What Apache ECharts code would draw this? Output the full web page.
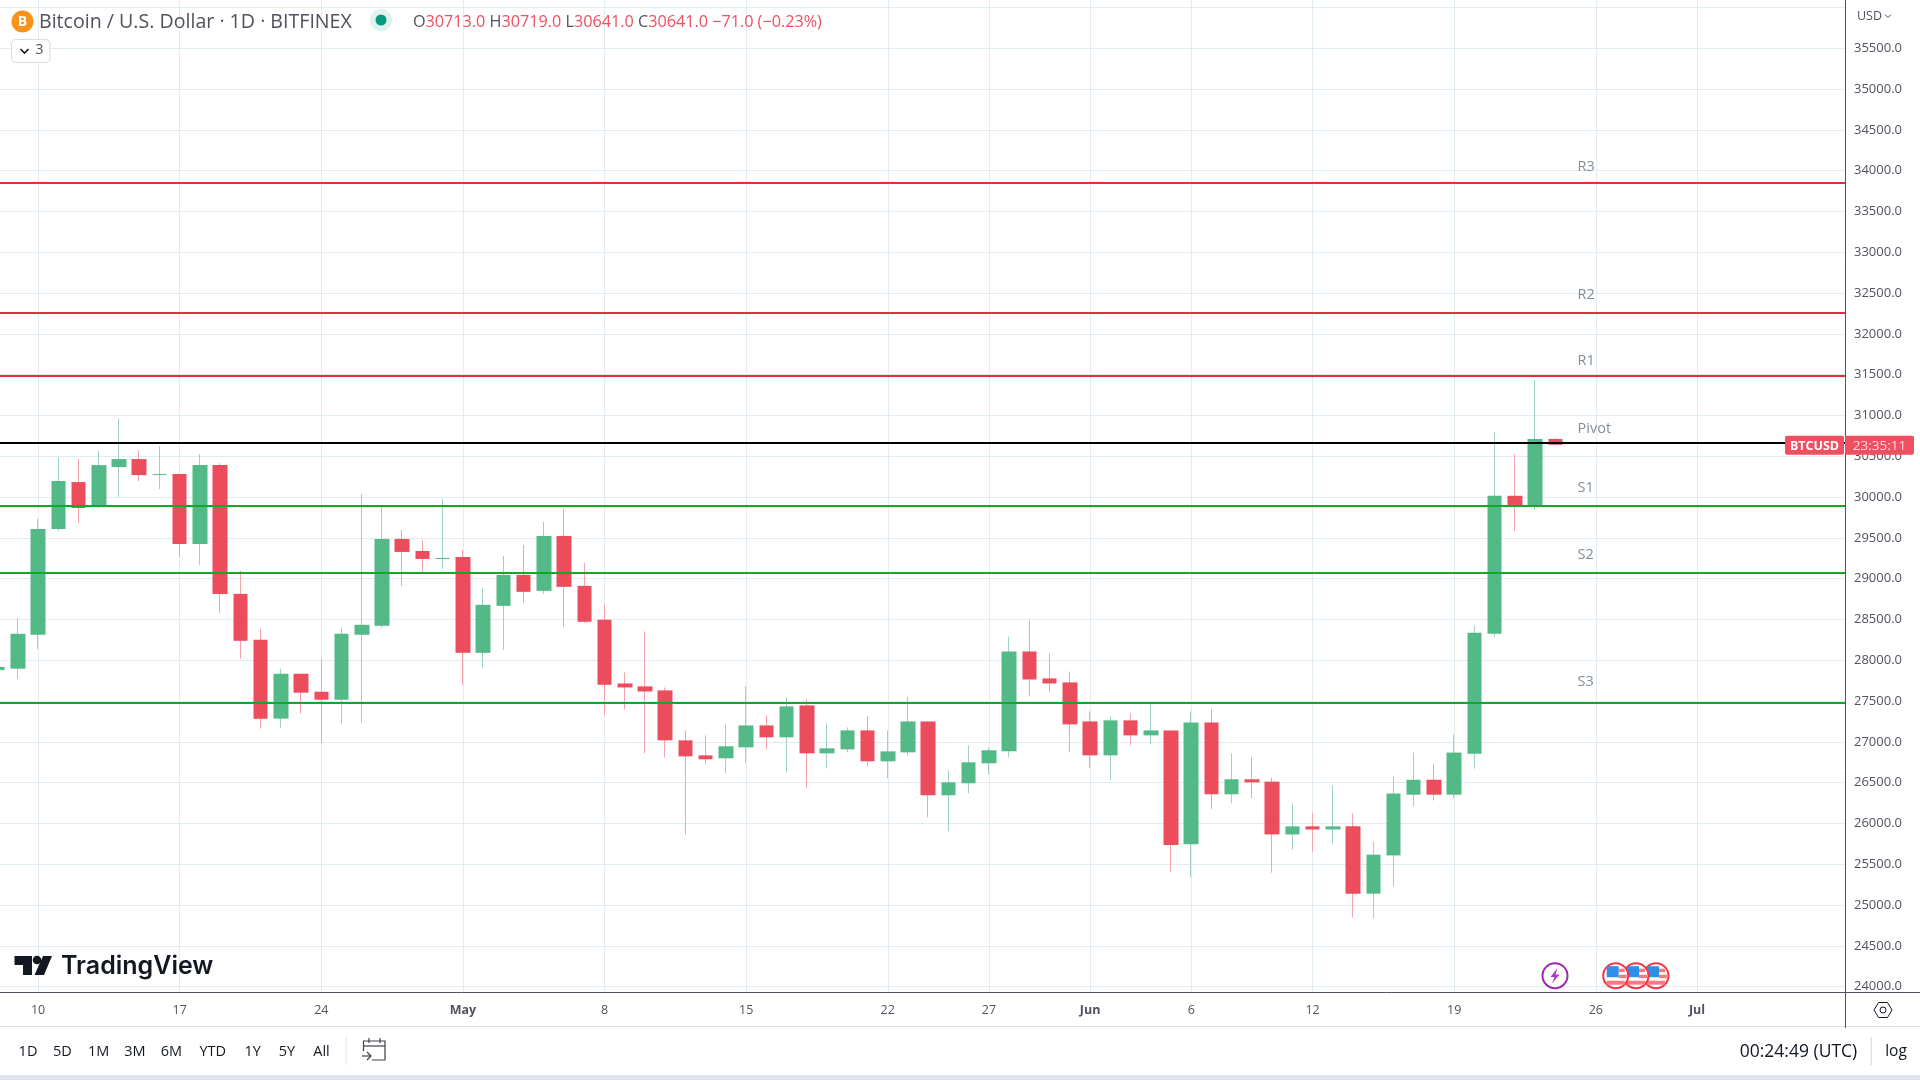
<!DOCTYPE html>
<html><head><meta charset="utf-8">
<style>html,body{margin:0;padding:0;background:#fff;overflow:hidden}#c{width:1920px;height:1080px}</style>
<script src="https://cdn.jsdelivr.net/npm/echarts@6/dist/echarts.min.js"></script>
</head><body><div id="c"></div>
<script>
const categories = [
'Apr 8','Apr 9','Apr 10','Apr 11','Apr 12','Apr 13','Apr 14','Apr 15','Apr 16','Apr 17','Apr 18','Apr 19','Apr 20','Apr 21','Apr 22','Apr 23','Apr 24','Apr 25','Apr 26','Apr 27','Apr 28','Apr 29','Apr 30',
'May 1','May 2','May 3','May 4','May 5','May 6','May 7','May 8','May 9','May 10','May 11','May 12','May 13','May 14','May 15','May 16','May 17','May 18','May 19','May 20','May 21','May 22','May 23','May 24','May 25','May 26','May 27','May 28','May 29','May 30','May 31',
'Jun 1','Jun 2','Jun 3','Jun 4','Jun 5','Jun 6','Jun 7','Jun 8','Jun 9','Jun 10','Jun 11','Jun 12','Jun 13','Jun 14','Jun 15','Jun 16','Jun 17','Jun 18','Jun 19','Jun 20','Jun 21','Jun 22','Jun 23','Jun 24','Jun 25','Jun 26','Jun 27','Jun 28','Jun 29','Jun 30',
'Jul 1','Jul 2','Jul 3','Jul 4','Jul 5','Jul 6','Jul 7','Jul 8'];
const opens = [27880,27897,28313,29609,30184,29891,30368,30466,30270,30282,29426,30392,28814,28251,27285,27835,27615,27517,28313,28423,29487,29340,29242,
29267,28092,28667,29047,28851,29524,28912,28496,27716,27680,27631,27019,26835,26799,26933,27202,27056,27447,26860,26909,27141,26762,26872,27251,26346,26493,26738,26884,28108,27778,27729,
27251,26835,27264,27080,27141,25747,27239,26358,26542,26513,25866,25965,25927,25965,25140,25609,26353,26536,26353,26855,28325,30016,29899,30713];
const closes = [27920,28325,29609,30197,29866,30392,30466,30270,30282,29426,30392,28814,28239,27285,27835,27603,27517,28325,28435,29487,29328,29242,29255,
28092,28680,29047,28839,29524,28900,28472,27701,27667,27618,27019,26823,26787,26946,27202,27056,27435,26860,26921,27141,26762,26884,27251,26346,26505,26750,26897,28108,27765,27716,27215,
26835,27264,27080,27141,25735,27239,26358,26542,26505,25866,25965,25927,25965,25140,25618,26367,26536,26353,26869,28339,30016,29899,30713,30641];
const lows = [27880,27774,28141,29585,29683,29866,30001,30197,30099,29267,29169,28582,28019,27163,27175,27346,26991,27224,27236,28398,28912,29083,29120,
27701,27909,28129,28704,28814,28410,28459,27322,27398,26860,26811,25869,26725,26615,26750,26909,26627,26432,26676,26872,26701,26554,26835,26077,25906,26371,26603,26811,27557,27606,26872,
26676,26530,26958,26970,25404,25343,26175,26248,26309,25398,25679,25651,25754,24850,24836,25229,26208,26283,26307,26672,28288,29585,29843,30641];
const highs = [27920,28521,29732,30490,30466,30564,30967,30576,30625,30290,30527,30417,29096,28386,27897,27835,28019,28398,30038,29879,29597,29475,29976,
29352,28888,29279,29414,29695,29854,29193,28692,27851,28353,27667,27141,27080,27215,27680,27325,27545,27521,27227,27178,27313,27141,27557,27251,26652,26958,26933,28291,28487,28083,27863,
27374,27313,27349,27480,27141,27374,27398,26860,26811,26564,26246,26133,26466,26124,25777,26574,26869,26733,27089,28424,30799,30527,31436,30719];
const tickLabels = {'Apr 10':'10','Apr 17':'17','Apr 24':'24','May 1':'May','May 8':'8','May 15':'15','May 22':'22','May 27':'27','Jun 1':'Jun','Jun 6':'6','Jun 12':'12','Jun 19':'19','Jun 26':'26','Jul 1':'Jul'};
const levelNames = ['R3','R2','R1','Pivot','S1','S2','S3'];
const levelValues = [33849,32257,31488,30667,29894,29073,27478];
const levelColors = ['#e0303f','#e0303f','#e0303f','#000000','#14a82a','#14a82a','#14a82a'];
const levelLabelValues = [34044,32478,31668,30839,30118,29297,27737];
const levelLabelCategory = 'Jun 25';
const lastPrice = 30641;
const rangeButtons = ['1D','5D','1M','3M','6M','YTD','1Y','5Y','All'];
const rangeX = [28,62.4,98.7,135,171.5,212.8,252.6,287,321.5];

const FONT = '"Open Sans"';
const GREY = '#50535e', UP = '#53b987', DOWN = '#eb4d5c';
const chart = echarts.init(document.getElementById('c'), null, {renderer:'canvas', width:1920, height:1080});

const ohlc = opens.map((o,i)=>[o,closes[i],lows[i],highs[i]]);
const bodies = opens.map((o,i)=>[o,closes[i],Math.min(o,closes[i]),Math.max(o,closes[i])]);
const isTick = (i,v)=>tickLabels[v]!==undefined;

function txt(x,y,text,size,fill,align,weight){
  return {type:'text',z:12,x,y,silent:true,style:{text,fill,align:align||'left',verticalAlign:'middle',font:(weight||'normal')+' '+size+'px '+FONT}};
}
function rect(x,y,w,h,fill,r,stroke){
  return {type:'rect',z:5,silent:true,shape:{x,y,width:w,height:h,r:r||0},style:{fill,stroke:stroke||null,lineWidth:stroke?1:0}};
}
function poly(points,stroke,lw,z){
  return {type:'polyline',z:z||12,silent:true,shape:{points},style:{stroke,fill:null,lineWidth:lw||1}};
}
function flag(cx,cy){
  return {type:'group',x:cx,y:cy,z:11,silent:true,children:[
    {type:'circle',z:11,shape:{cx:0,cy:0,r:12.5},style:{fill:'#fff',stroke:'#f23645',lineWidth:2}},
    {type:'rect',z:11,shape:{x:3,y:-7,width:6,height:3.5},style:{fill:'#f77c80'}},
    {type:'rect',z:11,shape:{x:3,y:-1,width:8,height:3.5},style:{fill:'#f77c80'}},
    {type:'rect',z:11,shape:{x:-9,y:5,width:18,height:4},style:{fill:'#f77c80'}},
    {type:'rect',z:11,shape:{x:-9,y:-9.5,width:12,height:11},style:{fill:'#2f8fe8'}}
  ]};
}

chart.setOption({
  animation:false,
  backgroundColor:'#ffffff',
  grid:{left:-12.5,top:-33.3,width:1861.2,height:1060.8,containLabel:false,outerBoundsMode:'none'},
  xAxis:[
    {type:'category',data:categories,boundaryGap:true,z:0,axisLine:{show:false},axisTick:{show:false},axisLabel:{show:false},
     splitLine:{show:true,alignWithLabel:true,interval:isTick,lineStyle:{color:'#e1ebf2',width:1}}},
    {type:'category',data:categories,boundaryGap:true,z:10,offset:-35.2,position:'bottom',
     axisLine:{show:true,lineStyle:{color:GREY,width:1}},axisTick:{show:false},splitLine:{show:false},
     axisLabel:{show:true,interval:isTick,margin:12,color:GREY,fontFamily:FONT,fontSize:12.5,
       formatter:v=>{const t=tickLabels[v];return /[A-Za-z]/.test(t)?'{m|'+t+'}':t;},
       rich:{m:{fontWeight:'bold',color:GREY,fontFamily:FONT,fontSize:12.5}}}}
  ],
  yAxis:[
    {type:'value',min:23500,max:36500,interval:500,position:'left',z:0,axisLine:{show:false},axisTick:{show:false},axisLabel:{show:false},
     splitLine:{show:true,lineStyle:{color:'#e1ebf2',width:1}}},
    {type:'value',min:23500,max:36500,interval:500,position:'right',offset:-3.2,z:10,
     axisLine:{show:true,lineStyle:{color:GREY,width:1}},axisTick:{show:false},splitLine:{show:false},
     axisLabel:{show:true,margin:8.5,padding:[2,0,0,0],color:GREY,fontFamily:FONT,fontSize:13,
       formatter:v=>(v>=24000&&v<=35500)?v.toFixed(1):''}}
  ],
  series:[
    {type:'candlestick',name:'wick',xAxisIndex:0,yAxisIndex:0,z:2,barWidth:1,silent:true,data:ohlc,
     itemStyle:{color:'#9fcfc9',color0:'#f6a2ad',borderColor:'#9fcfc9',borderColor0:'#f6a2ad',borderWidth:1}},
    {type:'candlestick',name:'body',xAxisIndex:0,yAxisIndex:0,z:3,barWidth:15,silent:true,data:bodies,
     itemStyle:{color:UP,color0:DOWN,borderColor:UP,borderColor0:DOWN,borderWidth:0}},
    {type:'scatter',name:'levels',xAxisIndex:0,yAxisIndex:0,z:4,symbolSize:0,silent:true,
     data:levelLabelValues.map((v,i)=>({value:[levelLabelCategory,v],name:levelNames[i]})),
     label:{show:true,position:'right',distance:2,formatter:p=>p.name,color:'#64717f',fontFamily:FONT,fontSize:14.5},
     markLine:{silent:true,symbol:'none',animation:false,label:{show:false},
       data:levelValues.map((v,i)=>({yAxis:v,lineStyle:{color:levelColors[i],width:2,type:'solid'}}))}}
  ]
});

const tagY = chart.convertToPixel({yAxisIndex:0},lastPrice);
const red='#ef4f60';
const R = s=>'{r|'+s+'}', G = s=>'{g|'+s+'}';
const graphics = [
  rect(1846,0,74,992.5,'#fff'),
  rect(0,993,1920,87,'#fff'),
  rect(1846,992,74,1,GREY),
  rect(0,1026,1920,1,'#e0e3eb'),
  rect(0,1075,1920,5,'#e0e3eb'),
  rect(1845,993,1,33,GREY),
  // header
  {type:'circle',z:12,silent:true,shape:{cx:22.5,cy:21.5,r:11},style:{fill:'#f7931a'}},
  txt(22.5,22,'B',14,'#fff','center','bold'),
  {type:'text',z:12,x:39,y:22,silent:true,style:{text:'Bitcoin / U.S. Dollar · 1D · BITFINEX',fill:GREY,verticalAlign:'middle',font:'normal 19.6px '+FONT}},
  {type:'circle',z:12,silent:true,shape:{cx:381,cy:20,r:11},style:{fill:'#dff2ee'}},
  {type:'circle',z:12,silent:true,shape:{cx:381,cy:20,r:5.5},style:{fill:'#089981'}},
  {type:'text',z:12,x:413,y:22.5,silent:true,style:{
    text:G('O')+R('30713.0')+G(' H')+R('30719.0')+G(' L')+R('30641.0')+G(' C')+R('30641.0')+R(' −71.0 (−0.23%)'),
    verticalAlign:'middle',font:'16.2px '+FONT,
    rich:{r:{fill:red,font:'16.2px '+FONT},g:{fill:GREY,font:'16.2px '+FONT}}}},
  {type:'rect',z:12,silent:true,shape:{x:11.5,y:39.5,width:38.5,height:23,r:4},style:{fill:'#fff',stroke:'#d8dbe3',lineWidth:1}},
  poly([[20.5,49],[24.5,53],[28.5,49]],'#131722',1.6),
  txt(39.5,50.5,'3',14,GREY,'center'),
  txt(1857,16,'USD',12.5,GREY),
  poly([[1885,14.5],[1888,17.5],[1891,14.5]],GREY,1),
  // price tag
  {type:'rect',z:12,silent:true,shape:{x:1785,y:tagY-9,width:59,height:19,r:2},style:{fill:red}},
  {type:'rect',z:12,silent:true,shape:{x:1845,y:tagY-9,width:69,height:19,r:2},style:{fill:red}},
  txt(1814.5,tagY+1.5,'BTCUSD',12.5,'#fff','center','bold'),
  txt(1879.5,tagY+1.5,'23:35:11',13.5,'#ffd9dc','center'),
  // logo
  {type:'polygon',z:12,silent:true,shape:{points:[[14.5,956],[32,956],[32,975],[23,975],[23,965],[14.5,965]]},style:{fill:'#131722'}},
  {type:'circle',z:12,silent:true,shape:{cx:37,cy:960,r:4.3},style:{fill:'#131722'}},
  {type:'polygon',z:12,silent:true,shape:{points:[[43,956],[52,956],[44,975],[34.5,975]]},style:{fill:'#131722'}},
  {type:'text',z:12,x:61,y:966,silent:true,style:{text:'TradingView',fill:'#131722',verticalAlign:'middle',font:'600 25px Inter'}},
  // events
  {type:'circle',z:11,silent:true,shape:{cx:1555,cy:975.7,r:12.5},style:{fill:'#fff',stroke:'#9c27b0',lineWidth:2}},
  {type:'polygon',z:12,silent:true,shape:{points:[[1557.5,968],[1550.5,977],[1554.5,977],[1552,983.5],[1559.5,974.5],[1555.5,974.5]]},style:{fill:'#a63bbd'}},
  flag(1656,975.7),flag(1636,975.7),flag(1615.7,975.7),
  // settings
  {type:'polygon',z:12,silent:true,shape:{points:[[1874,1010],[1878.5,1002.5],[1887.5,1002.5],[1892,1010],[1887.5,1017.5],[1878.5,1017.5]]},style:{fill:'#fff',stroke:'#131722',lineWidth:1}},
  {type:'circle',z:12,silent:true,shape:{cx:1883,cy:1010,r:3},style:{fill:'#fff',stroke:'#131722',lineWidth:1}},
  // bottom bar
  rect(345.5,1037,1,28,'#e0e3eb'),
  {type:'polyline',z:12,silent:true,shape:{points:[[363.5,1051],[363.5,1041],[385,1041],[385,1060],[372,1060]]},style:{stroke:'#3c404a',fill:null,lineWidth:1.2}},
  poly([[363.5,1046],[385,1046]],'#3c404a',1.2),
  poly([[369,1038],[369,1043]],'#3c404a',1.2),
  poly([[380,1038],[380,1043]],'#3c404a',1.2),
  poly([[362,1056],[371,1056]],'#3c404a',1.2),
  poly([[367,1052],[371,1056],[367,1060]],'#3c404a',1.2),
  rect(1870.5,1037,1.5,28,'#e0e3eb'),
  txt(1798.5,1052,'00:24:49 (UTC)',17.5,'#131722','center'),
  txt(1896,1052,'log',15.5,'#131722','center')
];
rangeButtons.forEach((b,i)=>graphics.push(txt(rangeX[i],1052,b,14.5,'#131722','center')));
chart.setOption({graphic:{elements:graphics}});
</script></body></html>
